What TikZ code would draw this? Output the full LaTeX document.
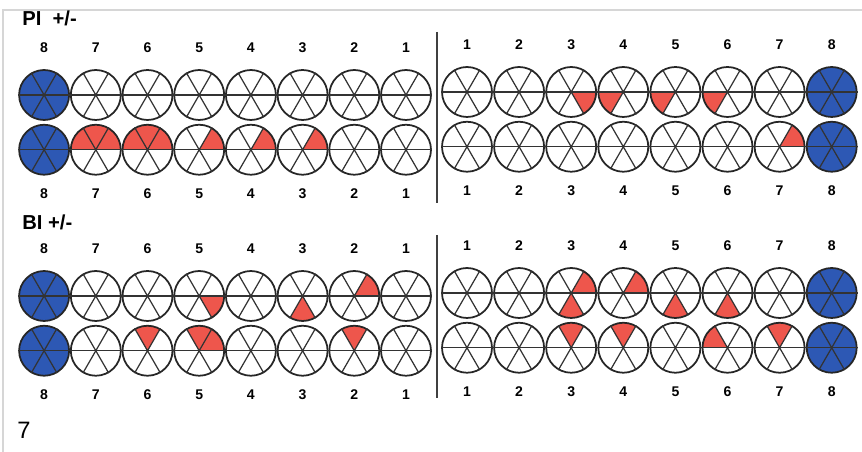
\documentclass[tikz,border=0pt]{standalone}
\usepackage{fontspec}
\setmainfont{Liberation Sans}
\usepackage{tikz}
\usetikzlibrary{positioning,backgrounds}
\definecolor{wellblue}{RGB}{45,88,180}
\definecolor{wellred}{RGB}{238,86,76}
\definecolor{framegray}{RGB}{214,214,214}

\tikzset{
  well/.style={circle,draw=black!85,line width=1pt,minimum size=1cm,inner sep=0pt},
  ctrl/.style={well,fill=wellblue},
  spoke/.style={black!80,line width=0.7pt},
  num/.style={font=\fontsize{8}{9}\selectfont\bfseries,inner sep=0pt},
  ttl/.style={font=\fontsize{11.5}{13}\selectfont\bfseries,anchor=base west,inner sep=0pt},
}

% one 60 degree sector of a well, starting at the given angle
\newcommand{\redsector}[2]{%
  \fill[wellred] (#1.center) -- ++(#2:0.5cm)
    arc[start angle=#2,delta angle=60,radius=0.5cm] -- cycle;}

\begin{document}
\begin{tikzpicture}[x=0.02cm,y=0.02cm]
\useasboundingbox (0,0) rectangle (862,452);
\draw[framegray,line width=0.6pt] (3,0) -- (3,442) -- (862,442);

\node[ttl] (pititle) at (22,426) {PI\ \ +/-};
\node[ttl] (bititle) at (22,222) {BI +/-};

% four halves of wells: left ones run 8..1, right ones 1..8
\foreach \hlf/\xa/\dx/\ya/\first/\last in
    {PIL/406/-51.7/357/8/1, PIR/467/52.1/360/1/8,
     BIL/406/-51.7/156/8/1, BIR/467/52.1/159/1/8}{
  \foreach \n in {1,...,8}{
    \pgfmathsetmacro{\xx}{\xa+(\dx)*(\n-1)}
    \ifnum\n=8 \def\wstyle{ctrl}\else\def\wstyle{well}\fi
    \node[\wstyle] (\hlf-t-\n) at (\xx,\ya) {};
    \node[\wstyle,below=0.06cm of \hlf-t-\n] (\hlf-b-\n) {};
    \node[num,above=0.32cm of \hlf-t-\n] (\hlf-nt-\n) {\n};
    \node[num,below=0.26cm of \hlf-b-\n] (\hlf-nb-\n) {\n};
    \foreach \r in {t,b}
      \draw[spoke] (\hlf-\r-\n.60) -- (\hlf-\r-\n.240)
                   (\hlf-\r-\n.120) -- (\hlf-\r-\n.300);
  }
  \draw[spoke] (\hlf-t-\first.west) -- (\hlf-t-\last.east);
  \draw[spoke] (\hlf-b-\first.west) -- (\hlf-b-\last.east);
}

% red sectors
\begin{scope}[on background layer]
  \foreach \w/\a in {PIL-b-7/0, PIL-b-7/60, PIL-b-7/120, PIL-b-6/0, PIL-b-6/60,
      PIL-b-6/120, PIL-b-5/0, PIL-b-4/0, PIL-b-3/0,
      PIR-t-3/300, PIR-t-4/180, PIR-t-5/180, PIR-t-6/180, PIR-b-7/0,
      BIL-t-5/300, BIL-t-3/240, BIL-t-2/0, BIL-b-6/60, BIL-b-5/0, BIL-b-5/60,
      BIL-b-2/60,
      BIR-t-3/0, BIR-t-3/240, BIR-t-4/0, BIR-t-5/240, BIR-t-6/240,
      BIR-b-3/60, BIR-b-4/60, BIR-b-6/120, BIR-b-7/60}
    \redsector{\w}{\a};
\end{scope}

% separators between the halves
\coordinate (pisepa) at (437,420);
\coordinate (pisepb) at (437,249);
\coordinate (bisepa) at (437,217);
\coordinate (bisepb) at (437,54);
\draw[black!75,line width=1pt] (pisepa) -- (pisepb);
\draw[black!75,line width=1pt] (bisepa) -- (bisepb);

\node[anchor=base west,inner sep=0pt,font=\fontsize{13.5}{15}\selectfont]
  (pagenum) at (17,13) {7};
\end{tikzpicture}
\end{document}
